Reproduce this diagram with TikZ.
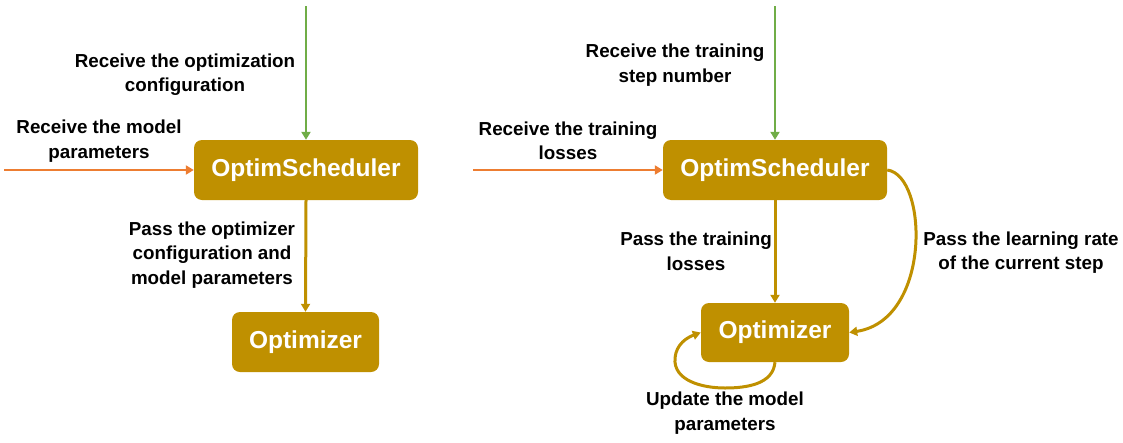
\documentclass[tikz,border=0pt]{standalone}
\usepackage{fontspec}
\setmainfont{Liberation Sans}
\usetikzlibrary{arrows.meta}
\definecolor{gold}{HTML}{BF9000}
\definecolor{grn}{HTML}{70AD47}
\definecolor{org}{HTML}{ED7D31}
\tikzset{
  box/.style={fill=gold, rounded corners=8pt, text=white, font=\fontsize{24.5}{28}\selectfont\bfseries, inner sep=0pt},
  lbl/.style={align=center, font=\fontsize{18.8}{24.5}\selectfont\bfseries, text=black, inner sep=0pt},
  arr/.style={line width=3pt, -{Triangle[length=8pt,width=9pt]}},
}
\begin{document}
\begin{tikzpicture}[x=1pt,y=-1pt]
\useasboundingbox (0,0) rectangle (1123,442);
% left
\node[box, minimum width=224pt, minimum height=60pt] (s1) at (306,170) {OptimScheduler};
\node[box, minimum width=147pt, minimum height=60pt] (o1) at (305.5,342) {Optimizer};
\coordinate (g1) at (306,6);
\coordinate (r1) at (4,170);
\draw[arr, grn, line width=2.6pt] (g1) -- (s1.north);
\draw[arr, org, line width=2.6pt] (r1) -- (s1.west);
\draw[arr, gold] (s1.south) -- (o1.north);
\node[lbl] (l1) at (185,74.5) {Receive the optimization\\configuration};
\node[lbl] (l2) at (99,141) {Receive the model\\parameters};
\node[lbl] (l3) at (212,255) {Pass the optimizer\\configuration and\\model parameters};
% right
\node[box, minimum width=224pt, minimum height=60pt] (s2) at (775,170) {OptimScheduler};
\node[box, minimum width=148pt, minimum height=59pt] (o2) at (775,332.5) {Optimizer};
\coordinate (g2) at (775,6);
\coordinate (r2) at (473,170);
\draw[arr, grn, line width=2.6pt] (g2) -- (s2.north);
\draw[arr, org, line width=2.6pt] (r2) -- (s2.west);
\draw[arr, gold] (s2.south) -- (o2.north);
\draw[arr, gold] (s2.east) .. controls (928,175) and (932,320) .. (o2.east);
\draw[arr, gold] (o2.south) to[out=-95,in=0] (725,388) to[out=180,in=-95] (675,358) to[out=85,in=200] (o2.west);
\node[lbl] (l4) at (675,65) {Receive the training\\step number};
\node[lbl] (l5) at (568,141) {Receive the training\\losses};
\node[lbl] (l6) at (696,251.5) {Pass the training\\losses};
\node[lbl] (l7) at (1021,252.5) {Pass the learning rate\\of the current step};
\node[lbl] (l8) at (725,413) {Update the model\\parameters};
\end{tikzpicture}
\end{document}
